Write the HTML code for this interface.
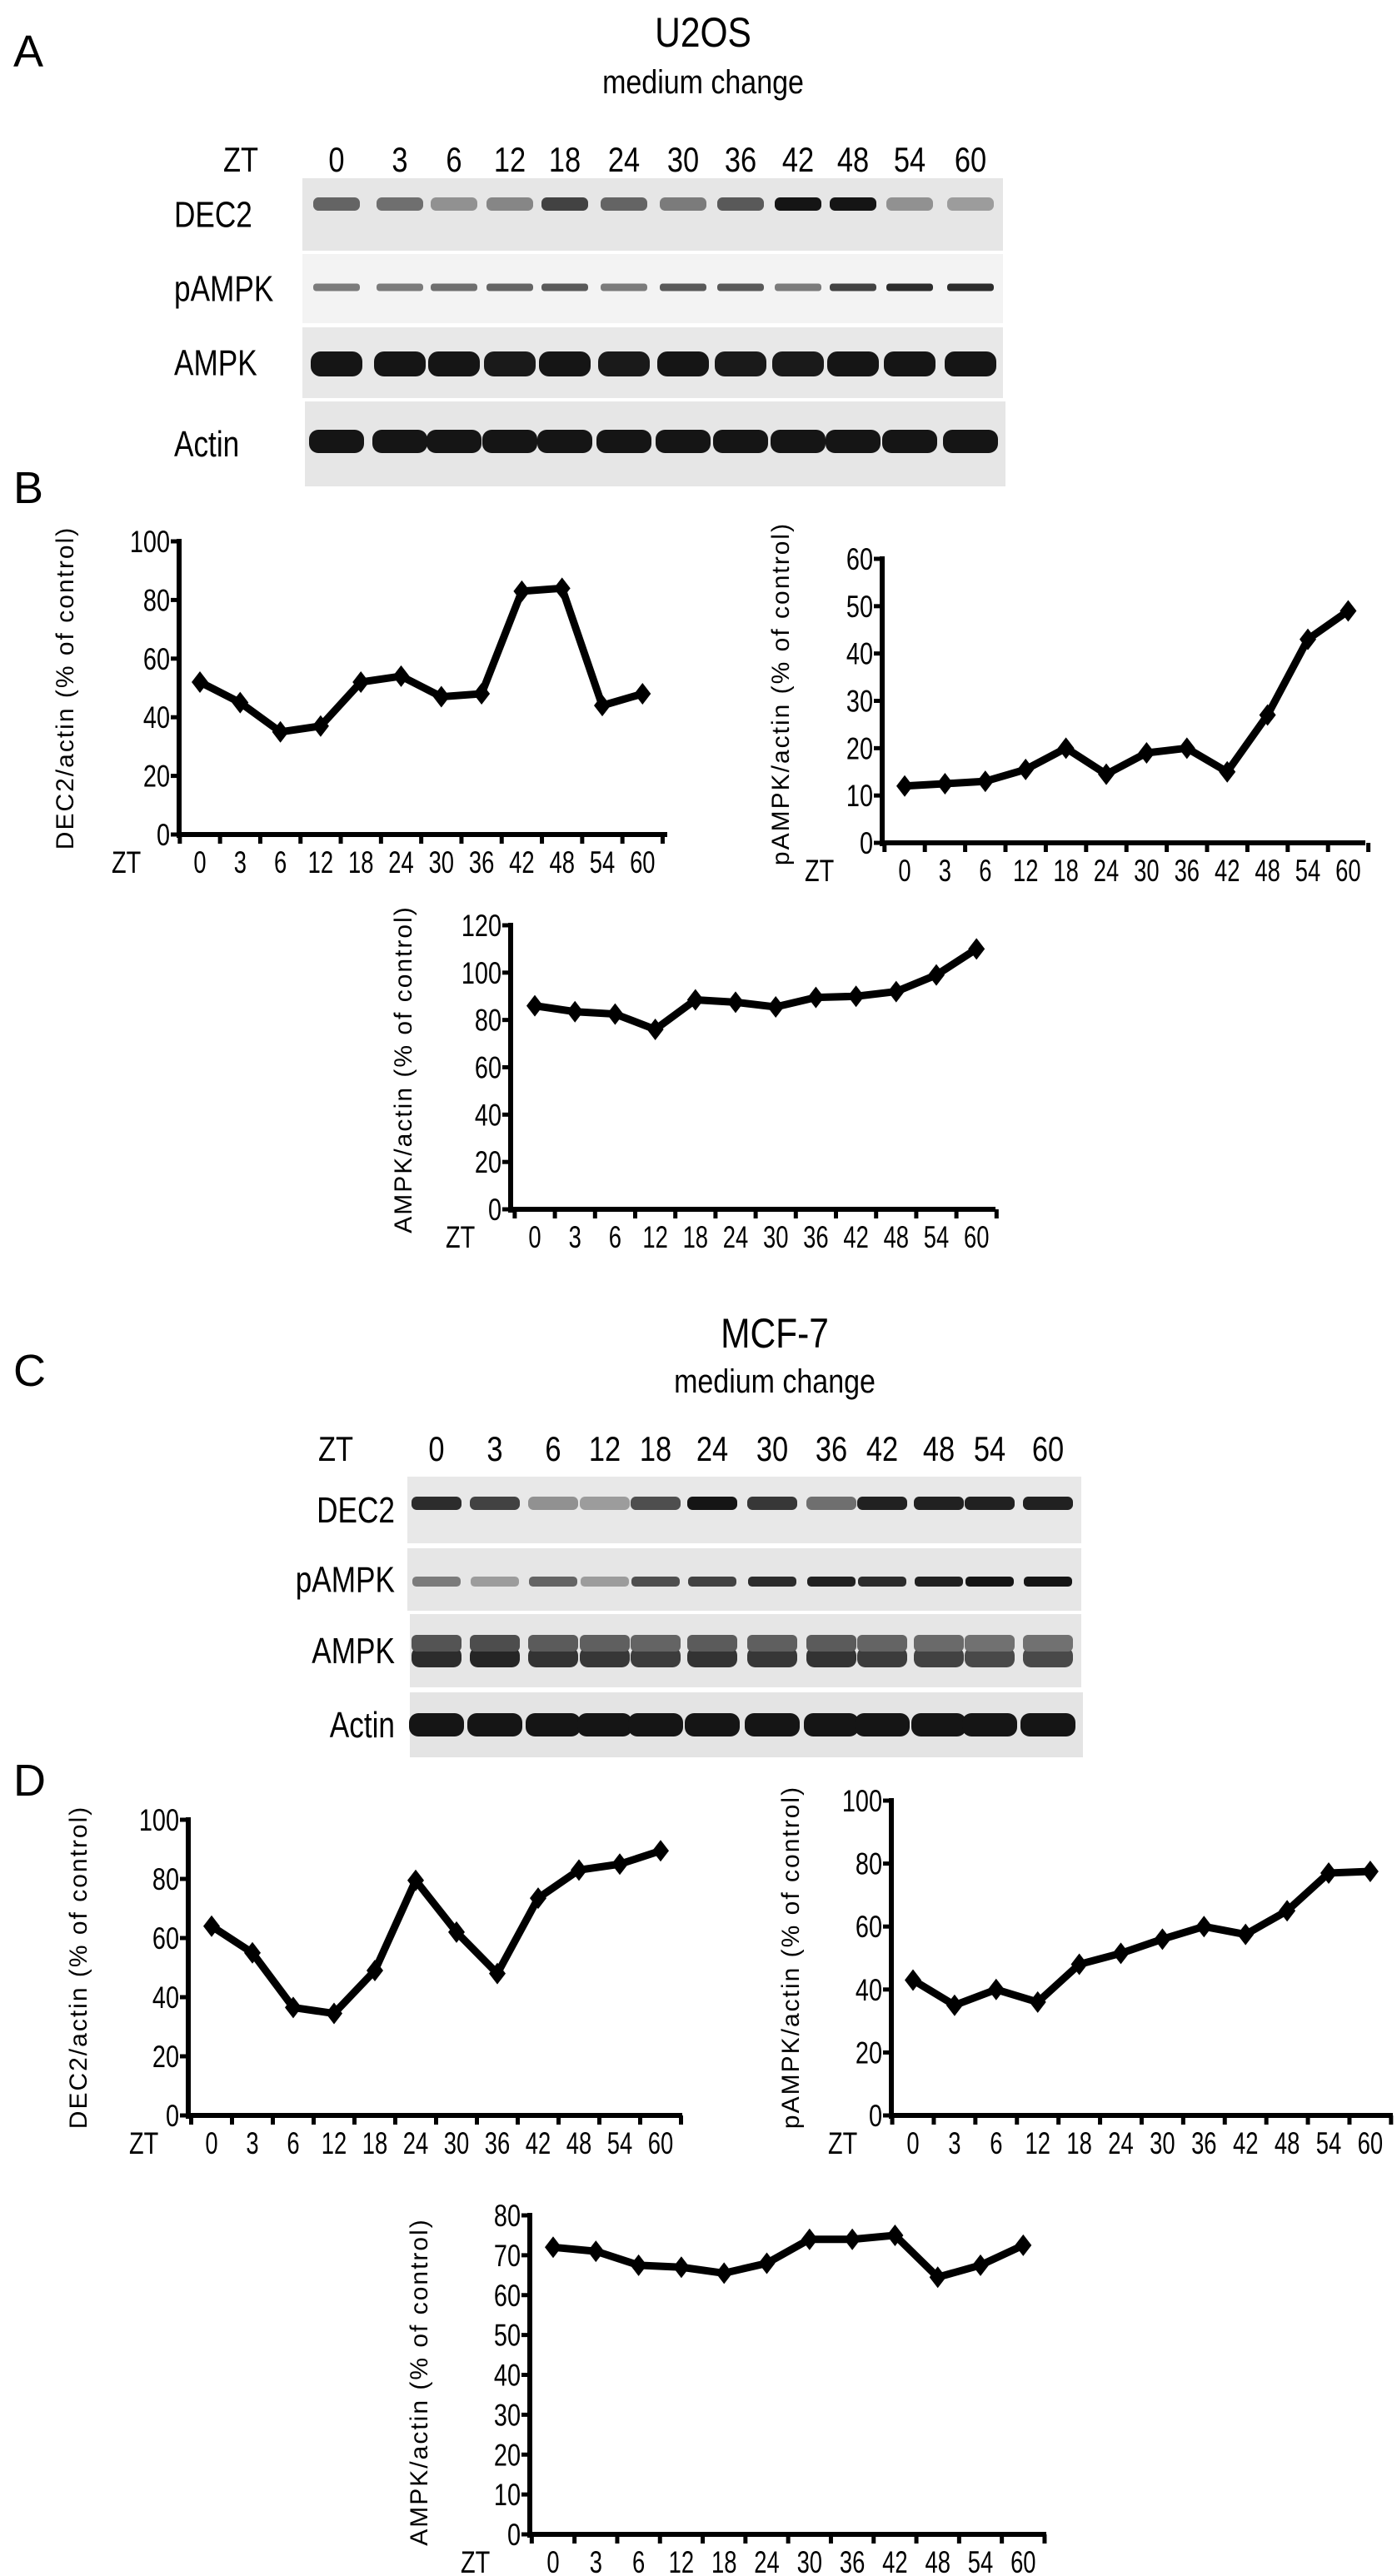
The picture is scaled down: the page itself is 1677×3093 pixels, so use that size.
<!DOCTYPE html>
<html><head><meta charset="utf-8">
<style>
html,body{margin:0;padding:0;background:#fff;}
svg{display:block;}
text{font-family:"Liberation Sans",sans-serif;fill:#000;}
</style></head>
<body>
<svg id="fig" xmlns="http://www.w3.org/2000/svg" width="1677" height="3093" viewBox="0 0 1677 3093">
<rect width="1677" height="3093" fill="#fff"/>
<text x="16" y="80" font-size="54">A</text>
<text x="844" y="56" font-size="50" text-anchor="middle" transform="translate(844,0) scale(0.85,1) translate(-844,0)">U2OS</text>
<text x="844" y="112" font-size="40" text-anchor="middle" transform="translate(844,0) scale(0.85,1) translate(-844,0)">medium change</text>
<text x="16" y="604" font-size="54">B</text>
<text x="16" y="1664" font-size="54">C</text>
<text x="930" y="1618" font-size="50" text-anchor="middle" transform="translate(930,0) scale(0.85,1) translate(-930,0)">MCF-7</text>
<text x="930" y="1672" font-size="40" text-anchor="middle" transform="translate(930,0) scale(0.85,1) translate(-930,0)">medium change</text>
<text x="16" y="2156" font-size="54">D</text>
<g id="layer"></g>
</svg>
<script>
// ---- data ----
var ztLabels = ['0','3','6','12','18','24','30','36','42','48','54','60'];
var yTicksB1 = [0,20,40,60,80,100];
var yTicksB2 = [0,10,20,30,40,50,60];
var yTicksB3 = [0,20,40,60,80,100,120];
var yTicksD1 = [0,20,40,60,80,100];
var yTicksD2 = [0,20,40,60,80,100];
var yTicksD3 = [0,10,20,30,40,50,60,70,80];
var u2osDec2 = [52,45,35,37,52,54,47,48,83,84,44,48];
var u2osPampk = [12,12.5,13,15.5,20,14.5,19,20,15,27,43,49];
var u2osAmpk = [86,83.5,82.5,76,88.5,87.5,85.5,89.5,90,92,99,110];
var mcfDec2 = [64,55,36.5,34.5,49,79.5,62,48,73.5,83,85,89.5];
var mcfPampk = [43,35,40,36,48,51.5,56,60,57.5,65,77,77.5];
var mcfAmpk = [72,71,67.5,67,65.5,68,74,74,75,64.5,67.5,72.5];
// blot band intensities (0-1)
var aDec2Int = [.6,.55,.4,.45,.75,.6,.5,.65,.95,.95,.4,.35];
var aPampkInt = [.5,.5,.55,.6,.65,.5,.65,.65,.5,.75,.85,.85];
var aAmpkInt = [.95,.95,.95,.93,.95,.93,.95,.93,.93,.95,.95,.95];
var aActinInt = [.95,.95,.95,.95,.95,.95,.95,.95,.95,.95,.95,.95];
var cDec2Int = [.85,.75,.4,.35,.7,.95,.8,.55,.9,.9,.9,.9];
var cPampkInt = [.5,.35,.6,.35,.7,.75,.85,.9,.85,.9,.95,.95];
var cAmpkInt = [.85,.88,.82,.8,.78,.82,.8,.82,.78,.75,.72,.72];
var cActinInt = [.95,.95,.95,.95,.95,.95,.95,.95,.95,.95,.95,.95];

var NS='http://www.w3.org/2000/svg';
var layer=document.getElementById('layer');
function el(tag,attrs,parent){var e=document.createElementNS(NS,tag);for(var k in attrs)e.setAttribute(k,attrs[k]);(parent||layer).appendChild(e);return e;}
function txt(x,y,s,size,anchor,sx,parent){var t=el('text',{x:0,y:0,'font-size':size,'text-anchor':anchor||'start',transform:'translate('+x+','+y+') scale('+(sx||0.8)+',1)'},parent);t.textContent=s;return t;}

// ---- blots ----
function blot(name,lanesX,rows,ztY,ztX,labelAnchor,labelX){
  var g=el('g',{});
  
  
  var z=txt(ztX,ztY,'ZT',42,'start',0.82,g);
  
  
  lanesX.forEach(function(x,i){
    var t=txt(x,ztY,ztLabels[i],42,'middle',0.82,g);
    
    
  });
  rows.forEach(function(r){
    var rg=el('g',{},g);
    
    
    el('rect',{x:r.x0,y:r.y0,width:r.x1-r.x0,height:r.y1-r.y0,fill:r.bg},rg);
    r.ints.forEach(function(v,i){
      var c=Math.round(235-225*v);
      var b=el('rect',{x:lanesX[i]-r.bw/2,y:r.by-r.bh/2,width:r.bw,height:r.bh,rx:r.bh/2.5,ry:r.bh/2.5,fill:'rgb('+c+','+c+','+c+')'},rg);
      
      
      if(r.by2){var c2=Math.min(235,c+40);el('rect',{x:lanesX[i]-r.bw/2,y:r.by2-r.bh/2.4,width:r.bw,height:r.bh/1.2,rx:6,fill:'rgb('+c2+','+c2+','+c2+')'},rg);}
    });
    var l=txt(labelX,(r.y0+r.y1)/2+15,r.label,44,labelAnchor,0.8,rg);
    
    
  });
}
var aX=[404,480,545,612,678,749,820,889,958,1024,1092,1165];
blot('u2os-blot',aX,[
 {label:'DEC2',x0:363,x1:1204,y0:214,y1:301,bg:'#e6e6e6',ints:aDec2Int,by:245,bw:56,bh:16},
 {label:'pAMPK',x0:363,x1:1204,y0:305,y1:388,bg:'#f3f3f3',ints:aPampkInt,by:345,bw:56,bh:9},
 {label:'AMPK',x0:363,x1:1204,y0:393,y1:478,bg:'#e8e8e8',ints:aAmpkInt,by:437,bw:62,bh:30},
 {label:'Actin',x0:366,x1:1207,y0:482,y1:584,bg:'#e6e6e6',ints:aActinInt,by:530,bw:66,bh:28}
],206,268,'start',209);
var cX=[524,594,664,726,787,855,927,998,1059,1127,1188,1258];
blot('mcf7-blot',cX,[
 {label:'DEC2',x0:489,x1:1298,y0:1773,y1:1853,bg:'#e8e8e8',ints:cDec2Int,by:1805,bw:60,bh:16},
 {label:'pAMPK',x0:489,x1:1298,y0:1859,y1:1934,bg:'#e6e6e6',ints:cPampkInt,by:1899,bw:58,bh:12},
 {label:'AMPK',x0:492,x1:1298,y0:1938,y1:2026,bg:'#e6e6e6',ints:cAmpkInt,by:1990,by2:1973,bw:60,bh:24},
 {label:'Actin',x0:492,x1:1300,y0:2032,y1:2110,bg:'#e4e4e4',ints:cActinInt,by:2071,bw:66,bh:28}
],1754,382,'end',474);

// ---- line charts ----
function chart(name,ox,oy,top,axisRight,x0,dx,ticks,vals,ylabel,ylabX,ylabY,ztX){
  var g=el('g',{});
  
  
  var ymax=ticks[ticks.length-1];
  function sy(v){return oy-(oy-top)*v/ymax;}
  function sx(i){return x0+i*dx;}
  var ya=el('line',{x1:ox,y1:top-3,x2:ox,y2:oy+4,stroke:'#000','stroke-width':6},g);
  
  
  var xa=el('line',{x1:ox-3,y1:oy,x2:axisRight,y2:oy,stroke:'#000','stroke-width':6},g);
  
  
  ticks.forEach(function(t){
    el('line',{x1:ox-10,y1:sy(t),x2:ox,y2:sy(t),stroke:'#000','stroke-width':5},g);
    var tl=txt(ox-11,sy(t)+13,String(t),37,'end',0.78,g);
    
    
  });
  for(var i=0;i<=vals.length;i++){
    var tx=sx(i)-dx/2;
    if(tx<ox)tx=ox;
    el('line',{x1:tx,y1:oy,x2:tx,y2:oy+11,stroke:'#000','stroke-width':5},g);
  }
  ztLabels.forEach(function(s,i){
    var xl=txt(sx(i),oy+46,s,37,'middle',0.74,g);
    
    
  });
  var zl=txt(ztX,oy+46,'ZT',37,'start',0.78,g);
  
  
  var pts=vals.map(function(v,i){return sx(i)+','+sy(v);}).join(' ');
  var pl=el('polyline',{points:pts,fill:'none',stroke:'#000','stroke-width':9,'stroke-linejoin':'round'},g);
  
  
  vals.forEach(function(v,i){
    var x=sx(i),y=sy(v);
    var m=el('polygon',{points:x+','+(y-13)+' '+(x+10)+','+y+' '+x+','+(y+13)+' '+(x-10)+','+y,fill:'#000'},g);
    
    
  });
  var yl=el('text',{x:0,y:0,'font-size':30,'text-anchor':'middle','letter-spacing':'2',transform:'translate('+ylabX+','+ylabY+') rotate(-90)'},g);
  yl.textContent=ylabel;
  
  
}
chart('chart-u2os-dec2',215,1002,650,801,240,48.3,yTicksB1,u2osDec2,'DEC2/actin (% of control)',88,826,134);
chart('chart-u2os-pampk',1059,1012,671,1639,1086,48.4,yTicksB2,u2osPampk,'pAMPK/actin (% of control)',947,833,966);
chart('chart-u2os-ampk',613,1452,1111,1195,642,48.2,yTicksB3,u2osAmpk,'AMPK/actin (% of control)',494,1284,535);
chart('chart-mcf7-dec2',226,2540,2185,819,254,49,yTicksD1,mcfDec2,'DEC2/actin (% of control)',104,2362,155);
chart('chart-mcf7-pampk',1070,2540,2162,1672,1096,49.9,yTicksD2,mcfPampk,'pAMPK/actin (% of control)',959,2350,994);
chart('chart-mcf7-ampk',636,3043,2660,1256,664,51.3,yTicksD3,mcfAmpk,'AMPK/actin (% of control)',513,2860,553);
</script>
</body></html>
